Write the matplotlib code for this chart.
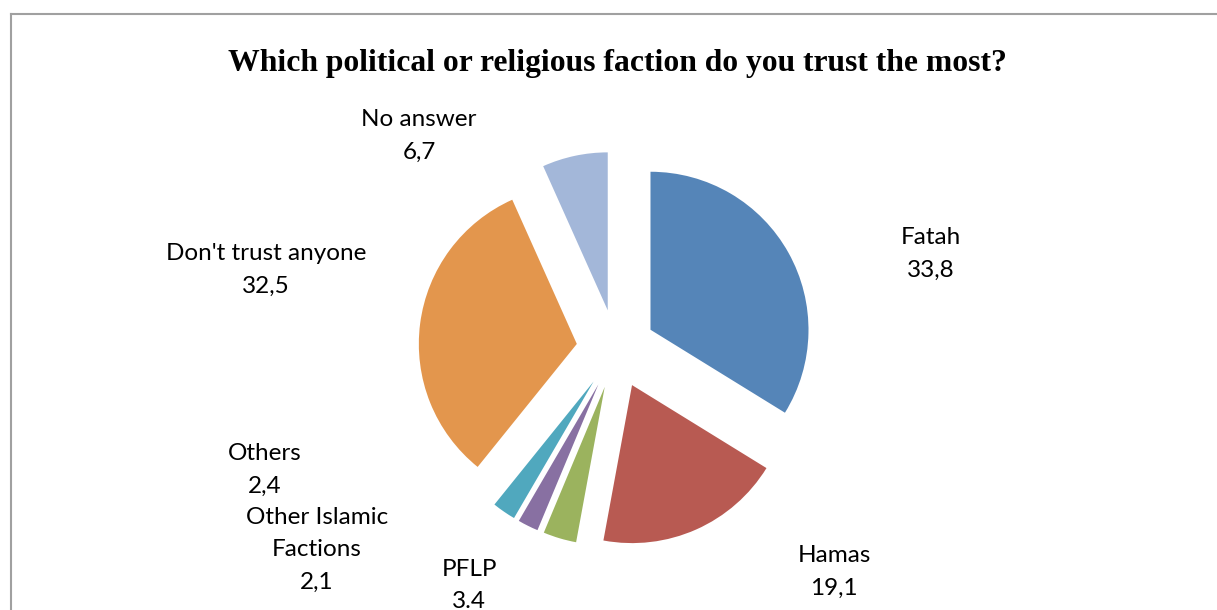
import matplotlib
matplotlib.use("Agg")
import matplotlib.pyplot as plt
from matplotlib.lines import Line2D

categories = ["Fatah", "Hamas", "PFLP", "Other Islamic\nFactions", "Others",
              "Don't trust anyone", "No answer"]
values = [33.8, 19.1, 3.4, 2.1, 2.4, 32.5, 6.7]
value_labels = ["33,8", "19,1", "3.4", "2,1", "2,4", "32,5", "6,7"]
colors = ["#5585B8", "#B85A52", "#9BB35E", "#8870A2", "#50A8BE", "#E3964D", "#A3B7D9"]

W, H = 1217, 610
fig = plt.figure(figsize=(W / 100, H / 100), dpi=100)
ax = fig.add_axes([0, 0, 1, 1])

cx, cy, r = 616, H - 349, 158
ax.pie(values, colors=colors, startangle=90, counterclock=False,
       explode=[0.25 * r] * len(values), radius=r, center=(cx, cy),
       wedgeprops=dict(linewidth=0))
ax.set_xlim(0, W)
ax.set_ylim(0, H)
ax.set_aspect("equal")
ax.axis("off")

# label positions (pixel coords, top-left origin)
label_pos = [(931, 238), (834, 556), (469, 570), (317, 518), (265, 454),
             (266, 254), (419, 120)]
font = dict(family=["Lato", "DejaVu Sans"], fontsize=17.5, color="#000000",
            ha="center", va="center")
for cat, val, (x, y) in zip(categories, value_labels, label_pos):
    lines = cat.split("\n") + [val]
    for i, line in enumerate(lines):
        ax.text(x, H - (y + 32 * i), line, **font)

ax.text(617, H - 63, "Which political or religious faction do you trust the most?",
        family=["Liberation Serif", "DejaVu Serif"], fontweight="bold",
        fontsize=22.8, ha="center", va="center", color="#000000")

# chart border (top and left visible)
ax.add_line(Line2D([11, W + 5], [H - 14, H - 14], color="#A0A0A0", lw=1.5))
ax.add_line(Line2D([11, 11], [H - 14, -5], color="#A0A0A0", lw=1.5))

fig.savefig("out.png", dpi=100)
